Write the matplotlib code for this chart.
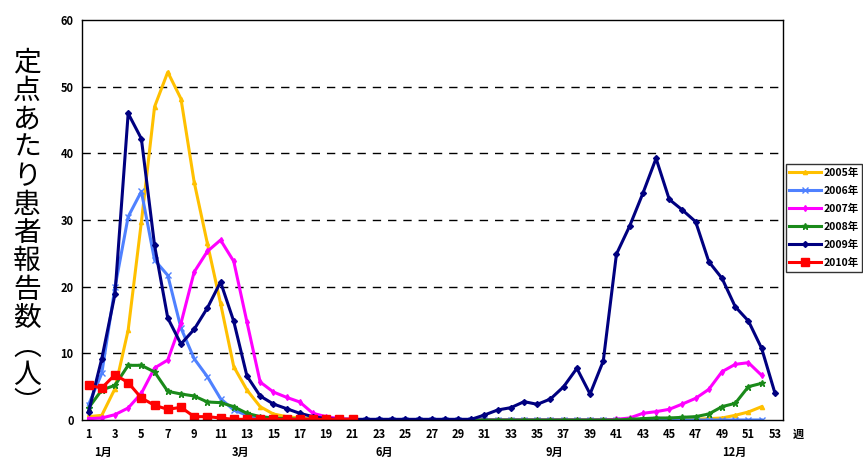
import matplotlib
matplotlib.use("Agg")
import matplotlib.pyplot as plt
import numpy as np

plt.rcParams['font.family'] = ['Noto Sans CJK JP', 'DejaVu Sans']

weeks = np.arange(1, 54)

# 2005-2008: weeks 1-52, 2009: weeks 1-53, 2010: weeks 1-21
y2005 = [0.5, 0.7, 4.7, 13.5, 29.7, 47.0, 52.2, 48.2, 35.7, 26.5,
         17.5, 8.0, 4.5, 2.0, 0.9, 0.5, 0.3, 0.2, 0.1, 0.1,
         0.1, 0.0, 0.0, 0.0, 0.0, 0.0, 0.0, 0.0, 0.0, 0.0,
         0.0, 0.0, 0.0, 0.0, 0.0, 0.0, 0.0, 0.0, 0.0, 0.0,
         0.0, 0.0, 0.0, 0.0, 0.0, 0.0, 0.1, 0.2, 0.3, 0.7,
         1.2, 2.0]
y2006 = [2.3, 7.0, 19.9, 30.5, 34.3, 24.0, 21.7, 13.8, 9.2, 6.5,
         3.2, 1.5, 0.7, 0.3, 0.2, 0.1, 0.1, 0.1, 0.0, 0.0,
         0.0, 0.0, 0.0, 0.0, 0.0, 0.0, 0.0, 0.0, 0.0, 0.0,
         0.0, 0.0, 0.0, 0.0, 0.0, 0.0, 0.0, 0.0, 0.0, 0.0,
         0.0, 0.0, 0.0, 0.0, 0.0, 0.0, 0.0, 0.0, 0.0, 0.0,
         0.0, 0.0]
y2007 = [0.2, 0.3, 0.8, 1.8, 4.0, 7.8, 9.0, 14.5, 22.2, 25.3,
         27.0, 23.8, 14.7, 5.7, 4.2, 3.4, 2.7, 1.0, 0.5, 0.2,
         0.1, 0.0, 0.0, 0.0, 0.0, 0.0, 0.0, 0.0, 0.0, 0.0,
         0.0, 0.0, 0.0, 0.0, 0.0, 0.0, 0.0, 0.0, 0.0, 0.0,
         0.1, 0.3, 1.0, 1.25, 1.6, 2.4, 3.25, 4.6, 7.25, 8.35,
         8.6, 6.7]
y2008 = [1.8, 4.5, 5.2, 8.2, 8.2, 7.2, 4.3, 3.9, 3.6, 2.7,
         2.6, 2.0, 1.0, 0.5, 0.3, 0.2, 0.1, 0.1, 0.0, 0.0,
         0.0, 0.0, 0.0, 0.0, 0.0, 0.0, 0.0, 0.0, 0.0, 0.0,
         0.0, 0.0, 0.0, 0.0, 0.0, 0.0, 0.0, 0.0, 0.0, 0.0,
         0.0, 0.1, 0.2, 0.3, 0.3, 0.4, 0.5, 0.9, 2.0, 2.5,
         5.0, 5.5]
y2009 = [1.2, 9.2, 18.9, 46.0, 42.2, 26.2, 15.3, 11.4, 13.6, 16.8,
         20.7, 14.8, 6.6, 3.6, 2.4, 1.7, 1.0, 0.5, 0.2, 0.1,
         0.1, 0.1, 0.1, 0.1, 0.1, 0.1, 0.1, 0.1, 0.1, 0.1,
         0.75, 1.5, 1.85, 2.75, 2.35, 3.15, 5.0, 7.75, 3.9, 8.85,
         24.9, 29.1, 34.0, 39.25, 33.1, 31.5, 29.75, 23.75, 21.25, 17.0,
         14.85, 10.75, 4.1]
y2010 = [5.2, 4.8, 6.8, 5.6, 3.3, 2.2, 1.6, 1.9, 0.5, 0.5,
         0.3, 0.1, 0.1, 0.1, 0.1, 0.1, 0.1, 0.1, 0.1, 0.1,
         0.1]

labels = ['2005年', '2006年', '2007年', '2008年', '2009年', '2010年']
month_pos = [2.1, 12.5, 23.4, 36.3, 49.9]
month_lab = ['1月', '3月', '6月', '9月', '12月']

fig = plt.figure(figsize=(8.63, 4.57), dpi=100)
ax = fig.add_axes([0.095, 0.081, 0.812, 0.875])

ax.plot(weeks[:52], y2005, color='#ffc000', lw=2.2, marker='^', ms=3, label=labels[0])
ax.plot(weeks[:52], y2006, color='#4f81ff', lw=2.2, marker='x', ms=4, label=labels[1])
ax.plot(weeks[:52], y2007, color='#ff00ff', lw=2.2, marker='d', ms=3, label=labels[2])
ax.plot(weeks[:52], y2008, color='#1a8a1a', lw=2.2, marker='*', ms=5, label=labels[3])
ax.plot(weeks, y2009, color='#000080', lw=2.2, marker='D', ms=3, label=labels[4])
ax.plot(weeks[:21], y2010, color='#ff0000', lw=2.2, marker='s', ms=6, label=labels[5])

ax.set_xlim(0.5, 53.6)
ax.set_ylim(0, 60)
ax.set_xticks(np.arange(1, 54, 2))
ax.set_yticks(np.arange(0, 61, 10))
ax.tick_params(length=0, labelsize=8, pad=6)
for t in ax.get_xticklabels() + ax.get_yticklabels():
    t.set_fontweight('bold')
for y in range(10, 60, 10):
    ax.axhline(y, color='black', lw=1, ls=(0, (6, 5)), zorder=0)
for s in ax.spines.values():
    s.set_linewidth(1)

for p, m in zip(month_pos, month_lab):
    ax.text(p, -4.8, m, ha='center', va='center', fontsize=8, fontweight='bold')
ax.text(54.8, -2.1, '週', ha='center', va='center', fontsize=8, fontweight='bold')

ylab = '定点あたり患者報告数︵人︶'
fig.text(0.031, 0.49, '\n'.join(ylab), ha='center', va='center', fontsize=20,
         linespacing=0.93)

leg = ax.legend(loc='upper left', bbox_to_anchor=(1.004, 0.64), fontsize=7.5,
                frameon=True, fancybox=False, edgecolor='black',
                handlelength=3.1, handletextpad=0.2, borderpad=0.35,
                labelspacing=0.75, borderaxespad=0)
leg.get_frame().set_linewidth(1)
for t in leg.get_texts():
    t.set_fontweight('bold')

fig.savefig('out.png', dpi=100)
